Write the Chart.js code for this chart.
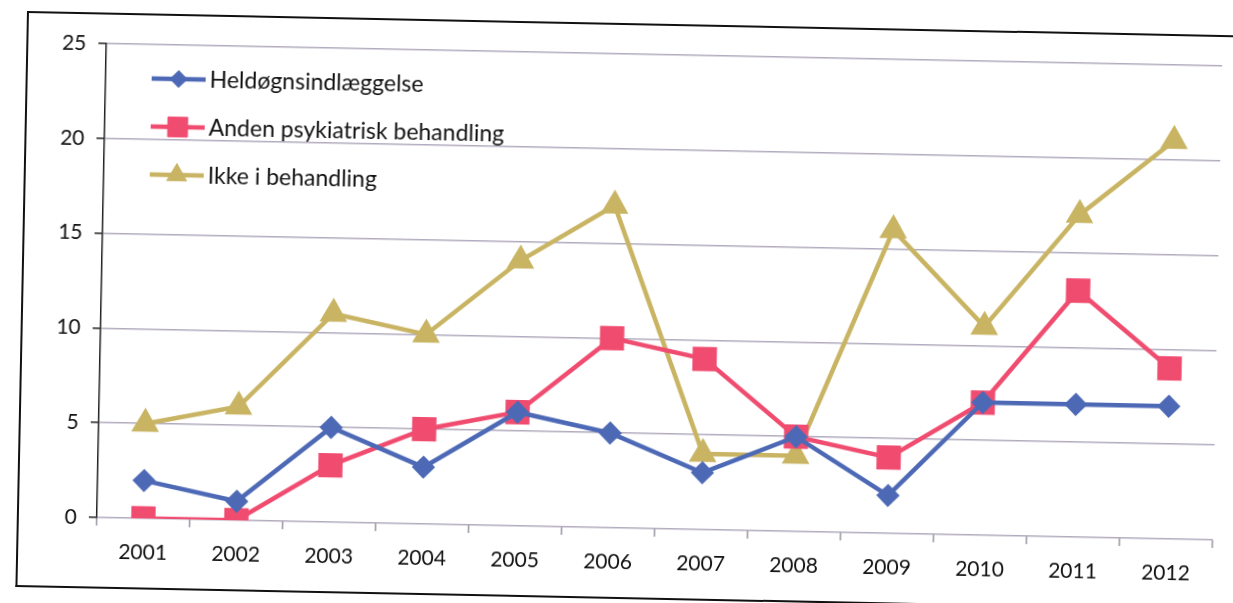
<!DOCTYPE html>
<html>
<head>
<meta charset="utf-8">
<script src="https://cdn.jsdelivr.net/npm/chart.js@4"></script>
<style>
    body { margin: 0; background: #fff; width: 1233px; height: 603px; overflow: hidden; position: relative; }
    #frame {
        position: absolute; left: 27px; top: 11px;
        width: 1230px; height: 576px;
        box-sizing: border-box;
        border: 2px solid #111;
        border-right: none;
        transform: rotate(1.15deg);
        transform-origin: 0 0;
        background: #fff;
    }
    #frame canvas { display: block; }
</style>
</head>
<body>
<div id="frame"><canvas id="chart"></canvas></div>
<script>
const years = ['2001', '2002', '2003', '2004', '2005', '2006', '2007', '2008', '2009', '2010', '2011', '2012'];
const heldogn = [2, 1, 5, 3, 6, 5, 3, 5, 2, 7, 7, 7];
const andenPsyk = [0, 0, 3, 5, 6, 10, 9, 5, 4, 7, 13, 9];
const ikkeBehandling = [5, 6, 11, 10, 14, 17, 4, 4, 16, 11, 17, 21];
const seriesNames = ['Heldøgnsindlæggelse', 'Anden psykiatrisk behandling', 'Ikke i behandling'];
const yTicks = [0, 5, 10, 15, 20, 25];

const FONT = 'Lato, "Open Sans", sans-serif';
const BLUE = '#4d69b6';
const PINK = '#f04c70';
const TAN = '#c8b462';

// legend drawn inside the plot, top-left, one entry per row
const insideLegend = {
    id: 'insideLegend',
    afterDraw(chart) {
        const ctx = chart.ctx;
        const area = chart.chartArea;
        ctx.save();
        chart.data.datasets.forEach((ds, i) => {
            const y = area.top + 34 + i * 48;
            const x0 = area.left + 46;
            const x1 = area.left + 100;
            ctx.strokeStyle = ds.borderColor;
            ctx.lineWidth = ds.borderWidth;
            ctx.beginPath();
            ctx.moveTo(x0, y);
            ctx.lineTo(x1, y);
            ctx.stroke();
            ctx.fillStyle = ds.pointBackgroundColor;
            ctx.strokeStyle = ds.borderColor;
            ctx.lineWidth = 1;
            Chart.helpers.drawPoint(ctx, {
                pointStyle: ds.pointStyle,
                radius: ds.pointRadius,
                borderWidth: 1,
                rotation: 0
            }, (x0 + x1) / 2, y);
            ctx.fillStyle = '#111';
            ctx.font = '23px ' + FONT;
            ctx.textBaseline = 'middle';
            ctx.textAlign = 'left';
            ctx.fillText(ds.label, x1 + 4, y + 1);
        });
        ctx.restore();
    }
};

function lineSet(label, data, color, style, radius) {
    return {
        label: label,
        data: data,
        borderColor: color,
        backgroundColor: color,
        pointBackgroundColor: color,
        pointBorderColor: color,
        borderWidth: 4.5,
        pointStyle: style,
        pointRadius: radius,
        pointHoverRadius: radius,
        tension: 0
    };
}

new Chart(document.getElementById('chart'), {
    type: 'line',
    data: {
        labels: years,
        datasets: [
            lineSet(seriesNames[0], heldogn, BLUE, 'rectRot', 8.5),
            lineSet(seriesNames[1], andenPsyk, PINK, 'rect', 14),
            lineSet(seriesNames[2], ikkeBehandling, TAN, 'triangle', 11.5)
        ]
    },
    options: {
        responsive: true,
        maintainAspectRatio: false,
        animation: false,
        layout: { padding: { top: 29, right: 34, bottom: 13, left: 0 } },
        plugins: {
            legend: { display: false },
            tooltip: { enabled: false }
        },
        scales: {
            x: {
                offset: true,
                afterFit: (scale) => { scale.height = 56; },
                grid: {
                    offset: true,
                    drawOnChartArea: false,
                    tickLength: 8,
                    color: '#9a96a4',
                    lineWidth: 1.5
                },
                border: { display: false },
                ticks: {
                    color: '#111',
                    padding: 14,
                    font: { family: FONT, size: 21 }
                }
            },
            y: {
                min: 0,
                max: 25,
                afterBuildTicks: (scale) => { scale.ticks = yTicks.map(v => ({ value: v })); },
                afterFit: (scale) => { scale.width = 78; },
                grid: {
                    color: '#b2abbe',
                    lineWidth: 1.5,
                    tickLength: 8,
                    tickColor: '#222'
                },
                border: { display: true, color: '#222', width: 1.5 },
                ticks: {
                    color: '#111',
                    padding: 12,
                    font: { family: FONT, size: 21 }
                }
            }
        }
    },
    plugins: [insideLegend]
});
</script>
</body>
</html>
